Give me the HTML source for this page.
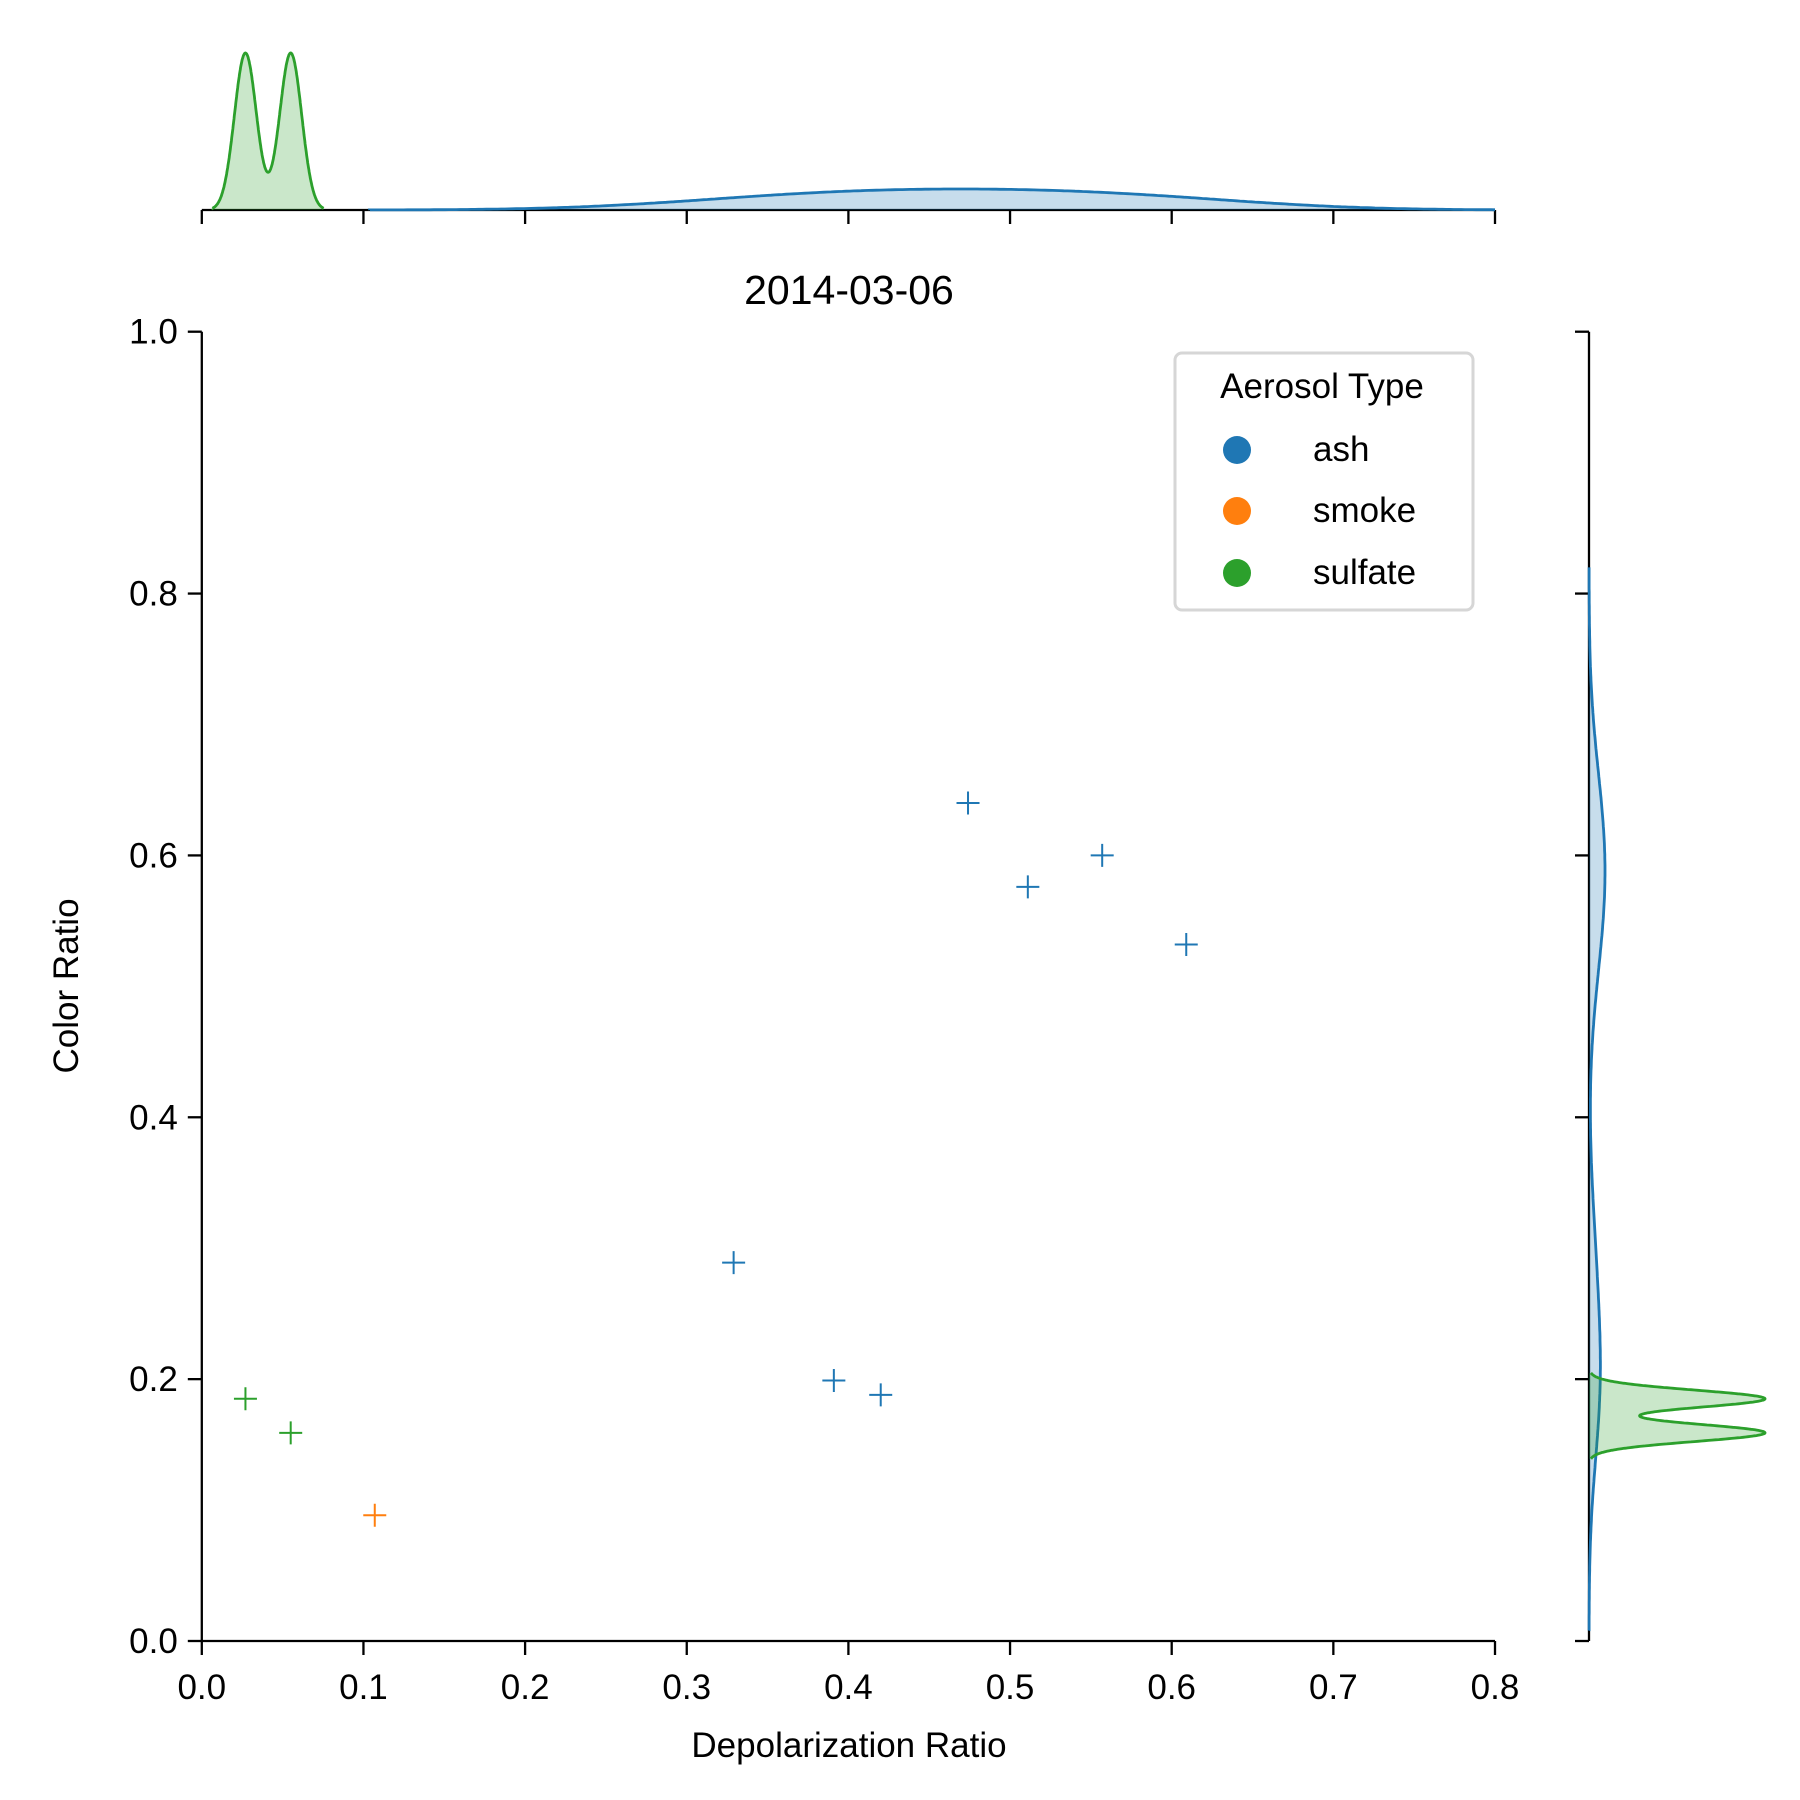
<!DOCTYPE html>
<html><head><meta charset="utf-8"><style>
html,body{margin:0;padding:0;background:#fff}
svg{display:block;font-family:"Liberation Sans","DejaVu Sans",sans-serif}
</style></head><body>
<svg id="chart" width="1800" height="1800" viewBox="0 0 1800 1800" xmlns="http://www.w3.org/2000/svg">
<text x="849" y="304" font-size="41" text-anchor="middle">2014-03-06</text>
<text x="849" y="1757" font-size="35" text-anchor="middle">Depolarization Ratio</text>
<text x="78" y="986" font-size="35" text-anchor="middle" transform="rotate(-90 78 986)">Color Ratio</text>
<g id="marks"></g>
<g>
<rect x="1175" y="353" width="298" height="257" rx="7" fill="#fff" fill-opacity="0.8" stroke="#d6d6d6" stroke-width="3"/>
<text x="1322" y="398" font-size="35" text-anchor="middle">Aerosol Type</text>
<circle cx="1237" cy="450" r="14" fill="#1f77b4"/>
<text x="1313" y="461" font-size="35">ash</text>
<circle cx="1237" cy="511" r="14" fill="#ff7f0e"/>
<text x="1313" y="522" font-size="35">smoke</text>
<circle cx="1237" cy="573" r="14" fill="#2ca02c"/>
<text x="1313" y="584" font-size="35">sulfate</text>
</g>
</svg>
<script>
const categories = ["ash","smoke","sulfate"];
const ashX = [0.329,0.391,0.420,0.474,0.511,0.557,0.609];
const ashY = [0.289,0.199,0.188,0.640,0.576,0.600,0.532];
const smokeX = [0.107];
const smokeY = [0.096];
const sulfateX = [0.027,0.055];
const sulfateY = [0.185,0.159];
const xTicks = ["0.0","0.1","0.2","0.3","0.4","0.5","0.6","0.7","0.8"];
const yTicks = ["0.0","0.2","0.4","0.6","0.8","1.0"];

const NS="http://www.w3.org/2000/svg";
const X0=201.8,X1=1495,Y0=1641,Y1=331.7;
const sx=v=>X0+(v-0)/(0.8)*(X1-X0);
const sy=v=>Y0-(v-0)/(1.0)*(Y0-Y1);
const g=document.getElementById('marks');
function mk(tag,attrs){const e=document.createElementNS(NS,tag);for(const k in attrs)e.setAttribute(k,attrs[k]);g.appendChild(e);return e;}

let e=mk('line',{x1:X0,y1:Y1,x2:X0,y2:Y0,stroke:'#000','stroke-width':2.3});


e=mk('line',{x1:X0,y1:Y0,x2:X1,y2:Y0,stroke:'#000','stroke-width':2.3});


e=mk('line',{x1:X0,y1:210,x2:X1,y2:210,stroke:'#000','stroke-width':2.3});


e=mk('line',{x1:1589,y1:Y1,x2:1589,y2:Y0,stroke:'#000','stroke-width':2.3});



xTicks.forEach(t=>{
  const x=sx(parseFloat(t));
  mk('line',{x1:x,y1:Y0,x2:x,y2:Y0+14,stroke:'#000','stroke-width':2.3});
  mk('line',{x1:x,y1:210,x2:x,y2:224,stroke:'#000','stroke-width':2.3});
  const tx=mk('text',{x:x,y:Y0+58,'font-size':35,'text-anchor':'middle'});
  tx.textContent=t;
  
  
});
yTicks.forEach(t=>{
  const y=sy(parseFloat(t));
  mk('line',{x1:X0,y1:y,x2:X0-14,y2:y,stroke:'#000','stroke-width':2.3});
  mk('line',{x1:1589,y1:y,x2:1575,y2:y,stroke:'#000','stroke-width':2.3});
  const tx=mk('text',{x:X0-24,y:y+12,'font-size':35,'text-anchor':'end'});
  tx.textContent=t;
  
  
});

function kde(data,bw,v){let s=0;for(const d of data){const z=(v-d)/bw;s+=Math.exp(-0.5*z*z);}return s;}
function curve(data,bw,lo,hi){const pts=[];const a=Math.max(lo,Math.min(...data)-3*bw),b=Math.min(hi,Math.max(...data)+3*bw);for(let i=0;i<=300;i++){const v=a+(b-a)*i/300;pts.push([v,kde(data,bw,v)]);}return pts;}
function peak(pts){return Math.max(...pts.map(p=>p[1]));}
// [data, bandwidth, color, name, peak height px]
const topSpec=[[ashX,0.075,'#1f77b4','top-kde-ash',21],[sulfateX,0.0068,'#2ca02c','top-kde-sulfate',157]];
topSpec.forEach(([data,bw,col,name,hpx])=>{
  const pts=curve(data,bw,0,0.8);const m=peak(pts);
  const h=v=>210-v/m*hpx;
  let d='M'+sx(pts[0][0])+','+h(pts[0][1]);pts.forEach(p=>d+=' L'+sx(p[0]).toFixed(1)+','+h(p[1]).toFixed(1));
  const fill=d+' L'+sx(pts[pts.length-1][0])+',210 L'+sx(pts[0][0])+',210 Z';
  mk('path',{d:fill,fill:col,'fill-opacity':0.25,stroke:'none'});
  const l=mk('path',{d:d,fill:'none',stroke:col,'stroke-width':2.8});
  
  
});
const rightSpec=[[ashY,0.06,'#1f77b4','right-kde-ash',16],[sulfateY,0.0066,'#2ca02c','right-kde-sulfate',176]];
rightSpec.forEach(([data,bw,col,name,wpx])=>{
  const pts=curve(data,bw,0,1);const m=peak(pts);
  const w=v=>1589+v/m*wpx;
  let d='M'+w(pts[0][1])+','+sy(pts[0][0]);pts.forEach(p=>d+=' L'+w(p[1]).toFixed(1)+','+sy(p[0]).toFixed(1));
  const fill=d+' L1589,'+sy(pts[pts.length-1][0])+' L1589,'+sy(pts[0][0])+' Z';
  mk('path',{d:fill,fill:col,'fill-opacity':0.25,stroke:'none'});
  const l=mk('path',{d:d,fill:'none',stroke:col,'stroke-width':2.8});
  
  
});

function plus(xs,ys,col,name){xs.forEach((xv,i)=>{
  const cx=sx(xv),cy=sy(ys[i]),r=11.5;
  const p=mk('path',{d:`M${cx-r},${cy} L${cx+r},${cy} M${cx},${cy-r} L${cx},${cy+r}`,stroke:col,'stroke-width':2,fill:'none'});
  
  
});}
plus(ashX,ashY,'#1f77b4','point-ash');
plus(smokeX,smokeY,'#ff7f0e','point-smoke');
plus(sulfateX,sulfateY,'#2ca02c','point-sulfate');
</script>
</body></html>
